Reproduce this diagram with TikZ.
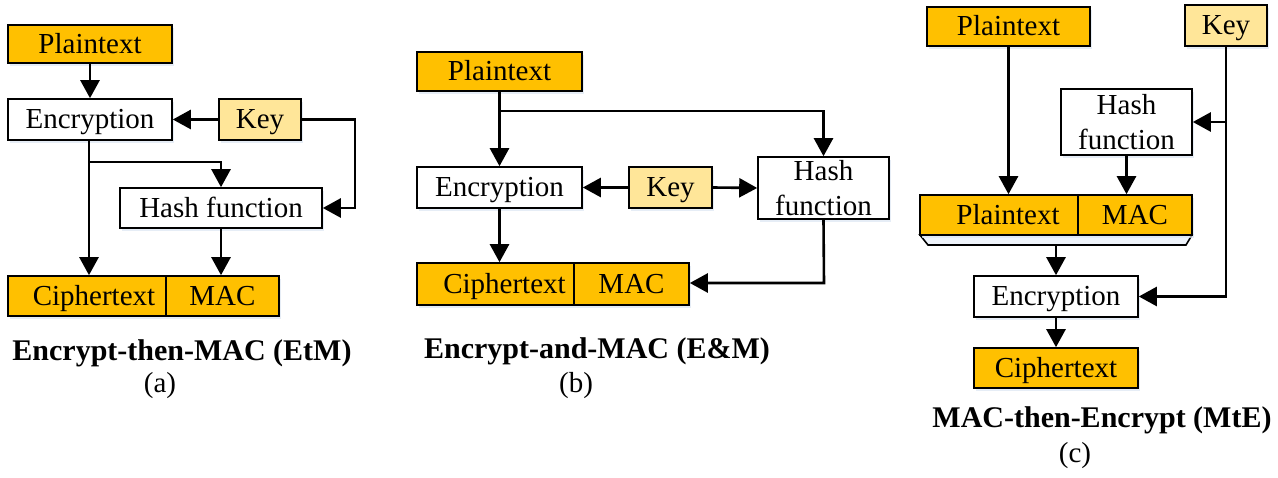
\documentclass[tikz,border=0pt]{standalone}
\usepackage{fontspec}
\setmainfont{Liberation Serif}
\usetikzlibrary{arrows.meta,shadows}
\definecolor{orng}{HTML}{FFC000}
\definecolor{lyel}{HTML}{FFE699}
\definecolor{shd}{HTML}{DCE6F2}
\definecolor{trap}{HTML}{EEF3FA}
\begin{document}
\begin{tikzpicture}[x=1pt,y=-1pt,
  base/.style={draw=black, line width=1.6pt, inner sep=0pt, font=\fontsize{29}{35}\selectfont,
    drop shadow={shadow xshift=2pt, shadow yshift=-3pt, fill=shd, opacity=0.7}},
  box/.style={base, text height=19pt, text depth=0pt},
  wbox/.style={box, fill=white},
  obox/.style={box, fill=orng},
  kbox/.style={box, fill=lyel},
  hbox/.style={base, fill=white, align=center},
  arr/.style={line width=2.6pt, -{Triangle[length=18pt,width=19pt]}},
  captxt/.style={font=\bfseries\fontsize{30}{32}\selectfont},
  subtxt/.style={font=\fontsize{29}{31}\selectfont}]
\useasboundingbox (0,0) rectangle (1278,478);
% ---------- (a) ----------
\node[obox, minimum width=164pt, minimum height=38pt] (pa) at (90,44) {Plaintext};
\node[wbox, minimum width=164pt, minimum height=41pt] (ea) at (90,119.5) {Encryption};
\node[kbox, minimum width=82pt, minimum height=41pt] (ka) at (260,119.5) {Key};
\node[wbox, minimum width=202pt, minimum height=40pt] (ha) at (221,208) {Hash function};
\node[obox, minimum width=158pt, minimum height=40pt] (ca) at (87,296) {\hspace{14pt}Ciphertext};
\node[obox, minimum width=113pt, minimum height=40pt] (ma) at (222.5,296) {MAC\hspace{20pt}};
\coordinate (ja) at (89,162);
\coordinate (kra) at (355,119.5);
\draw[arr] (pa.south) -- (ea.north);
\draw[arr] (ka.west) -- (ea.east);
\draw[arr] (ja |- ea.south) -- (ja |- ca.north);
\draw[arr] (ja) -| (ha.north);
\draw[arr] (ka.east) -- (kra) |- (ha.east);
\draw[arr] (ha.south) -- (ha.south |- ma.north);
\node[captxt] (capa) at (182,353) {Encrypt-then-MAC (EtM)};
\node[subtxt] (suba) at (160,386) {(a)};
% ---------- (b) ----------
\node[obox, minimum width=165pt, minimum height=39pt] (pb) at (499.5,71.5) {Plaintext};
\node[wbox, minimum width=165pt, minimum height=41pt] (eb) at (499.5,187.5) {Encryption};
\node[kbox, minimum width=83pt, minimum height=41pt] (kb) at (670.5,187.5) {Key};
\node[hbox, minimum width=131pt, minimum height=62pt] (hb) at (823.5,188) {Hash\\function};
\node[obox, minimum width=157pt, minimum height=42pt] (cb) at (495.5,284) {\hspace{18pt}Ciphertext};
\node[obox, minimum width=115pt, minimum height=42pt] (mb) at (631.5,284) {MAC\hspace{19pt}};
\coordinate (jb) at (500,111);
\coordinate (hbb) at (824,283);
\draw[arr] (pb.south) -- (eb.north);
\draw[arr] (jb) -| (hb.north);
\draw[arr] (kb.west) -- (eb.east);
\draw[arr] (kb.east) -- (hb.west);
\draw[arr] (eb.south) -- (eb.south |- cb.north);
\draw[arr] (hb.south) -- (hbb) -- (mb.east |- hbb);
\node[captxt] (capb) at (597,351) {Encrypt-and-MAC (E\&M)};
\node[subtxt] (subb) at (576,386) {(b)};
% ---------- (c) ----------
\node[obox, minimum width=163pt, minimum height=39pt] (pc) at (1008.5,26.5) {Plaintext};
\node[kbox, minimum width=82pt, minimum height=41pt] (kc) at (1226,25.5) {Key};
\node[hbox, minimum width=131pt, minimum height=66pt] (hc) at (1126.5,122) {Hash\\function};
\draw[line width=1.6pt, fill=trap] (920,235) -- (1192,235) -- (1186,245) -- (928,245) -- cycle;
\node[obox, minimum width=158pt, minimum height=40pt] (pmc) at (999,215) {\hspace{18pt}Plaintext};
\node[obox, minimum width=114pt, minimum height=40pt] (mc) at (1135,215) {MAC\hspace{19pt}};
\node[wbox, minimum width=164pt, minimum height=41pt] (ec) at (1056,296.5) {Encryption};
\node[obox, minimum width=164pt, minimum height=40pt] (cc) at (1056,368) {Ciphertext};
\coordinate (tc) at (1056,245);
\coordinate (kdc) at (1226,296.5);
\coordinate (khc) at (1226,122);
\draw[arr] (pc.south) -- (pc.south |- pmc.north);
\draw[arr] (hc.south) -- (hc.south |- mc.north);
\draw[arr] (tc) -- (ec.north);
\draw[arr] (ec.south) -- (cc.north);
\draw[arr] (kc.south) -- (kdc) -- (ec.east);
\draw[arr] (khc) -- (hc.east);
\node[captxt] (capc) at (1102,420) {MAC-then-Encrypt (MtE)};
\node[subtxt] (subc) at (1075,456) {(c)};
\end{tikzpicture}
\end{document}
